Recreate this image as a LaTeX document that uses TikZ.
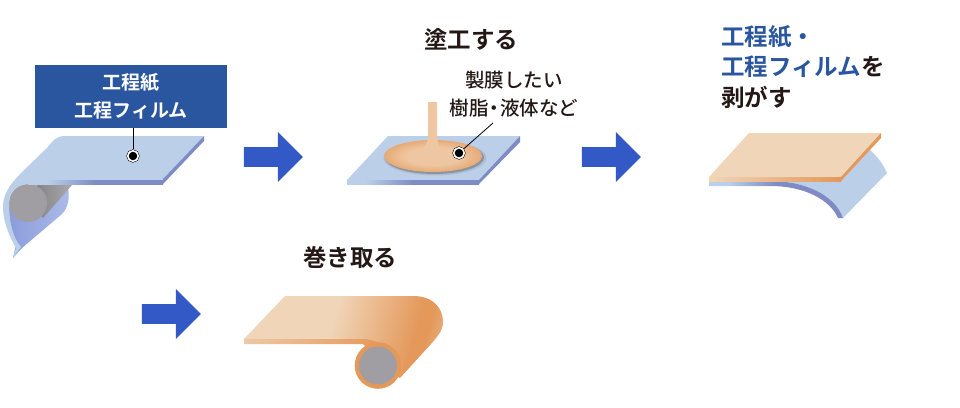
\documentclass[tikz,border=0pt]{standalone}
\usepackage{fontspec}
\setmainfont{Noto Sans CJK JP Medium}[BoldFont={Noto Sans CJK JP Bold}]
\usepackage{tikz}
\usetikzlibrary{shapes,shapes.arrows,arrows}
\definecolor{inkdark}{HTML}{231815}
\definecolor{inkblue}{HTML}{2A56A0}
\definecolor{arrowblue}{HTML}{3359C6}
\definecolor{filmlight}{HTML}{BCCFE9}
\definecolor{filmdark}{HTML}{7E8BC4}
\definecolor{filmdeep}{HTML}{8B9CDC}
\definecolor{filmpale}{HTML}{ABBBE8}
\definecolor{resinlight}{HTML}{F0D5B8}
\definecolor{resinmid}{HTML}{EEC6A1}
\definecolor{resinrim}{HTML}{E7AA76}
\definecolor{resindark}{HTML}{E4985A}
\definecolor{rollgray}{HTML}{A09EA3}
\definecolor{rollshadow}{HTML}{6F6E71}
\definecolor{rollside}{HTML}{ABAAAC}
\pgfdeclarehorizontalshading{rollshade}{100bp}{color(0bp)=(resinlight); color(46bp)=(resinlight); color(70bp)=(resindark); color(73bp)=(resindark); color(77bp)=(resinrim); color(100bp)=(resinrim)}
\pgfdeclarehorizontalshading{edgeshade}{100bp}{color(0bp)=(filmlight); color(32bp)=(filmlight); color(50bp)=(filmdark); color(100bp)=(filmdark)}
\pgfdeclareradialshading{puddleshade}{\pgfpoint{0bp}{0bp}}{color(0bp)=(resinmid); color(14bp)=(resinmid); color(25bp)=(resinrim); color(50bp)=(resinrim)}
\tikzstyle{heading} = [text=inkdark, font=\fontsize{23.5}{30.5}\selectfont\bfseries, inner sep=0pt]
\tikzstyle{labelbox} = [rectangle, fill=inkblue, text=white, align=center, inner sep=0pt,
    minimum width=192pt, minimum height=63pt, font=\fontsize{19}{28}\selectfont\bfseries]
\tikzstyle{remark} = [text=inkdark, align=center, inner sep=0pt, font=\fontsize{19.5}{28}\selectfont]
\tikzstyle{flow} = [single arrow, fill=arrowblue, inner sep=0pt, text height=19pt, text width=0pt,
    minimum height=59pt, minimum width=50pt, single arrow head extend=15pt]
\tikzstyle{target} = [circle, draw=black, fill=black, line width=0.5pt, double=white, double distance=1.6pt,
    inner sep=0pt, minimum size=10.5pt, outer sep=1.3pt]
\tikzstyle{line} = [draw=black, line width=0.8pt]
\begin{document}
\begin{tikzpicture}[x=1pt, y=-1pt, node distance=338pt]
    \useasboundingbox (0,0) rectangle (960,407);
    % Place nodes
    \node [flow] (arrowa) at (268.5,157) {};
    \node [flow, right of=arrowa] (arrowb) {};
    \node [flow] (arrowc) at (166.5,314) {};
    \node [heading] (coat) at (471,39) {塗工する};
    \node [heading] (wind) at (350,258) {巻き取る};
    \node [heading, align=left, anchor=north west] (peel) at (721,25)
        {\textcolor{inkblue}{工程紙・}\\\textcolor{inkblue}{工程フィルム}を\\剥がす};
    % First sheet over its roller
    \path [left color=filmdeep, right color=filmpale] (68,188) .. controls (70,198) and (68,208) .. (62,214)
        -- (22,248) -- (13,258) -- (16,245) .. controls (10,230) and (9,215) .. (9,203) -- (30,186) -- cycle;
    \path [left color=rollshadow, right color=rollside] (16,186) -- (73,184) -- (43,218) -- cycle;
    \fill [rollgray] (28,203) circle (19);
    \path [fill=filmlight] (63,136) -- (204,136) -- (163,179) -- (163,184) -- (28,184)
        .. controls (15,185) and (9,194) .. (9,203) .. controls (9,222) and (13,238) .. (21,247) -- (13,258) -- (16,248)
        .. controls (8,234) and (3,220) .. (3,207) .. controls (3,190) and (15,180) .. (22,172) -- (47,148) .. controls (53,140) and (58,136) .. (63,136) -- cycle;
    \path [shading=edgeshade] (28,180) -- (163,180) -- (163,184) -- (28,184) -- cycle;
    \fill [filmdark] (163,179) -- (204,136) -- (204,141) -- (163,184) -- cycle;
    % Second sheet with the resin poured on it
    \fill [filmlight] (388,136) -- (520,136) -- (479,180) -- (347,180) -- cycle;
    \path [shading=edgeshade] (347,180) -- (479,180) -- (479,184) -- (347,184) -- cycle;
    \fill [filmdark] (479,180) -- (520,136) -- (520,142) -- (479,184) -- cycle;
    \fill [black!55, opacity=0.2] (435,158) ellipse (51.5 and 17.5);
    \fill [black!65, opacity=0.4] (434.5,157.5) ellipse (49.5 and 16.5);
    \path [shading=puddleshade] (433,156) ellipse (49 and 16);
    \path [top color=resinmid, middle color=resinlight, bottom color=resinmid] (428,102) -- (437,102) -- (437,135)
        .. controls (437,144) and (440,149) .. (447,154) -- (417,154) .. controls (424,149) and (428,144) .. (428,135) -- cycle;
    % Third sheet peeled off the film
    \fill [filmlight] (860,145) -- (870,150) .. controls (877,156) and (883,164) .. (887,173) -- (843,218)
        .. controls (835,195) and (805,181) .. (770,181) -- cycle;
    \path [shading=edgeshade] (709,181) -- (770,181) .. controls (805,181) and (835,195) .. (843,218) -- (838,218)
        .. controls (830,200) and (805,186) .. (770,186) -- (709,186) -- cycle;
    \fill [resinlight] (749,133) -- (881,133) -- (841,177) -- (709,177) -- cycle;
    \path [left color=resinlight, right color=resindark] (709,177) -- (841,177) -- (841,181) -- (709,181) -- cycle;
    \fill [resindark] (841,177) -- (881,133) -- (881,138) -- (841,181) -- cycle;
    % Finished roll
    \path [shading=rollshade, shading angle=-15] (285,296) -- (413,296) .. controls (434,296) and (443,309) .. (443,322)
        .. controls (443,330) and (438,336) .. (431,344) -- (400,378) -- (378,366) -- (360,339) -- (244,339) -- cycle;
    \path [left color=resinlight!80!resindark, right color=resindark] (244,339) -- (362,339)
        .. controls (370,339) and (376,341) .. (385,346) -- (378,350) -- (362,344) -- (244,344) -- cycle;
    \fill [resindark] (378,365.5) circle (23.3);
    \fill [rollgray] (378,365.5) circle (19);
    % Labels and their lines
    \node [labelbox] (paper) at (131,96.5) {工程紙\\工程フィルム};
    \node [target] (dota) at (133,156) {};
    \path [line] (dota) -- (dota |- paper.south);
    \node [remark] (resin) at (514,94) {製膜したい\\樹脂\kern-4pt・\kern-4pt液体など};
    \node [target] (dotb) at (459,153) {};
    \coordinate (resinend) at (493,123);
    \path [line] (dotb) -- (resinend);
\end{tikzpicture}
\end{document}
